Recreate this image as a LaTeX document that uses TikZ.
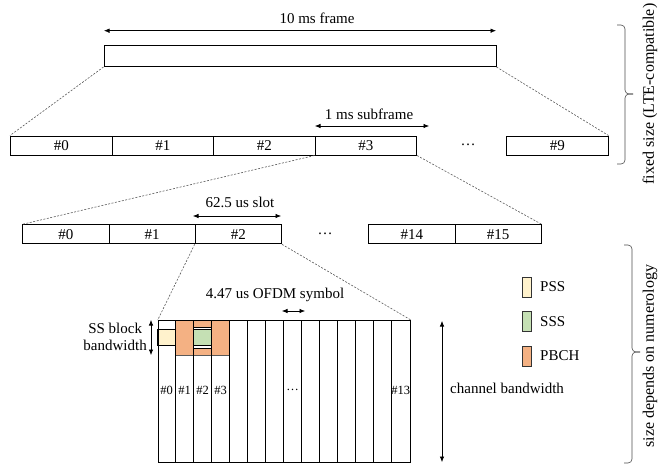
\documentclass[tikz,border=0pt]{standalone}
\usepackage{fontspec}
\setmainfont{Liberation Serif}
\usetikzlibrary{arrows.meta}
\definecolor{pssc}{HTML}{FFF2CC}
\definecolor{sssc}{HTML}{C5E0B4}
\definecolor{pbchc}{HTML}{F4B183}
\definecolor{dotc}{HTML}{595959}
\begin{document}
\begin{tikzpicture}[x=1pt,y=-1pt,
  every node/.style={font=\fontsize{15}{17.5}\selectfont, inner sep=0pt},
  box/.style={draw, line width=1pt, rectangle, anchor=north west, minimum height=19pt},
  sfbox/.style={box, minimum width=101.5pt},
  slbox/.style={box, minimum width=86.2pt},
  guide/.style={draw=dotc, line width=0.6pt, dash pattern=on 2pt off 1.5pt},
  dim/.style={line width=0.6pt, {Latex[length=5.5pt,width=4.5pt]}-{Latex[length=5.5pt,width=4.5pt]}},
  legbox/.style={draw=black!80, line width=0.8pt, minimum width=9pt, minimum height=20pt},
  coltxt/.style={font=\fontsize{12.5}{14}\selectfont},
  sidetxt/.style={font=\fontsize{16}{18}\selectfont, rotate=90},
  gridline/.style={line width=1.2pt},
  bracket/.style={line width=0.6pt, draw=black!70, rounded corners=4pt},
  thin/.style={line width=0.7pt}
]
\useasboundingbox (0,0) rectangle (661,466);

% frame
\node[box, minimum width=392pt, minimum height=21pt] (frame) at (103.5,45) {};
\node (tframe) at (317,18) {10 ms frame};
\draw[dim] (104,30.7) coordinate (fa) -- (496,30.7) coordinate (fb);

% subframes
\node[sfbox] (sf0) at (10,135.5) {\#0};
\node[sfbox] (sf1) at (111.5,135.5) {\#1};
\node[sfbox] (sf2) at (213,135.5) {\#2};
\node[sfbox] (sf3) at (314.5,135.5) {\#3};
\node (sfdots) at (468,145) {…};
\node[sfbox] (sf9) at (506,135.5) {\#9};
\node (tsub) at (369,114) {1 ms subframe};
\draw[dim] (315,126) coordinate (sa) -- (429,126) coordinate (sb);

\draw[guide] (frame.south west) -- (sf0.north west);
\draw[guide] (frame.south east) -- (sf9.north east);

% slots
\node[slbox] (sl0) at (22.3,224.3) {\#0};
\node[slbox] (sl1) at (108.5,224.3) {\#1};
\node[slbox] (sl2) at (194.7,224.3) {\#2};
\node (sldots) at (325,233.5) {…};
\node[slbox] (sl14) at (368.3,224.3) {\#14};
\node[slbox] (sl15) at (454.5,224.3) {\#15};
\node (tslot) at (240,202) {62.5 us slot};
\draw[dim] (193,216) coordinate (la) -- (281,216) coordinate (lb);

\draw[guide] (sf3.south west) -- (sl0.north west);
\draw[guide] (sf3.south east) -- (sl15.north east);

% SS block fills
\filldraw[fill=pbchc, draw=dotc, line width=0.5pt] (175.7,320) rectangle (229.7,355);
\filldraw[fill=white, draw=black, thin] (193.7,327) rectangle (211.7,348);
\filldraw[fill=sssc, draw=black, thin] (193.7,329.5) rectangle (211.7,345.5);
\filldraw[fill=pssc, draw=black, thin] (157.7,329) rectangle (175.7,345);

% grid
\node[draw, gridline, rectangle, anchor=north west, minimum width=252pt, minimum height=142pt] (grid) at (157.7,320) {};
\foreach \i in {1,...,13} {
  \draw[gridline] (157.7+18*\i,320) -- (157.7+18*\i,462);
}
\node[coltxt] (c0) at (166.7,390) {\#0};
\node[coltxt] (c1) at (184.7,390) {\#1};
\node[coltxt] (c2) at (202.7,390) {\#2};
\node[coltxt] (c3) at (220.7,390) {\#3};
\node[coltxt] (c7) at (292.7,390) {…};
\node[coltxt] (c13) at (400.7,390) {\#13};

\draw[guide] (sl2.south west) -- (grid.north west);
\draw[guide] (sl2.south east) -- (grid.north east);

\node (tsym) at (275,295) {4.47 us OFDM symbol};
\draw[dim] (282,311) coordinate (ya) -- (305,311) coordinate (yb);

\node[align=center, anchor=east] (tss) at (147,337) {SS block\\bandwidth};
\draw[dim] (151,320) coordinate (ba) -- (151,355) coordinate (bb);

\draw[dim] (442,321) coordinate (ca) -- (442,462) coordinate (cb);
\node[anchor=west] (tch) at (450,388) {channel bandwidth};

% legend
\node[legbox, fill=pssc] (lpss) at (526.5,287) {};
\node[anchor=west] (tpss) at (540,287) {PSS};
\node[legbox, fill=sssc] (lsss) at (526.5,321.5) {};
\node[anchor=west] (tsss) at (540,321.5) {SSS};
\node[legbox, fill=pbchc] (lpbch) at (526.5,356) {};
\node[anchor=west] (tpbch) at (540,356) {PBCH};

% brackets
\draw[bracket] (617,25) -- (625,25) -- (625,94) -- (633,94);
\draw[bracket] (633,94) -- (625,94) -- (625,164) -- (617,164);
\node[sidetxt] (tfix) at (650,94) {fixed size (LTE-compatible)};

\draw[bracket] (624,245) -- (632,245) -- (632,352) -- (640,352);
\draw[bracket] (640,352) -- (632,352) -- (632,463) -- (624,463);
\node[sidetxt] (tnum) at (650,356) {size depends on numerology};
\end{tikzpicture}
\end{document}
